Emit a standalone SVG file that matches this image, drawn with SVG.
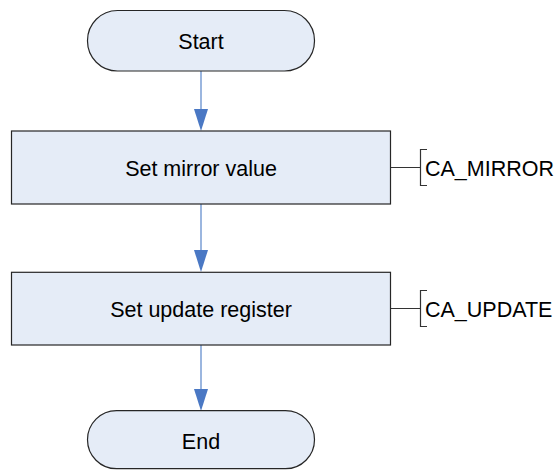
<svg xmlns="http://www.w3.org/2000/svg" width="557" height="470" viewBox="0 0 557 470">
  <style>
    .shape { fill: #e5ecf7; stroke: #262626; stroke-width: 1.2; }
    .label { font-family: "Liberation Sans", Arial, sans-serif; font-size: 21.5px; fill: #000; text-anchor: middle; }
    .note { font-family: "Liberation Sans", Arial, sans-serif; font-size: 21.5px; fill: #000; }
    .flow { stroke: #9bb6df; stroke-width: 2; fill: none; }
    .head { fill: #4a78c4; }
    .lead { stroke: #333; stroke-width: 1.2; fill: none; }
  </style>

  <g id="connectors">
    <line class="flow" x1="201" y1="71" x2="201" y2="109"/>
    <polygon class="head" points="194,109 208,109 201,131"/>
    <line class="flow" x1="201" y1="204" x2="201" y2="250"/>
    <polygon class="head" points="194,250 208,250 201,272"/>
    <line class="flow" x1="201" y1="345" x2="201" y2="389"/>
    <polygon class="head" points="194,389 208,389 201,411"/>
    <path class="lead" d="M390.5,167.5 H420.5 M427,149.5 H420.5 V185.5 H427"/>
    <path class="lead" d="M390.5,308.5 H420.5 M427,290.5 H420.5 V326.5 H427"/>
  </g>

  <g id="start">
    <rect class="shape" x="87.5" y="10.5" width="227" height="60.5" rx="30" ry="30"/>
    <text class="label" x="201" y="48.5">Start</text>
  </g>

  <g id="set-mirror">
    <rect class="shape" x="11.5" y="131" width="379" height="73"/>
    <text class="label" x="201" y="175.5">Set mirror value</text>
    <text class="note" x="425" y="175.5">CA_MIRROR</text>
  </g>

  <g id="set-update">
    <rect class="shape" x="11.5" y="272.3" width="379" height="72.7"/>
    <text class="label" x="201" y="316.5">Set update register</text>
    <text class="note" x="425" y="316.5">CA_UPDATE</text>
  </g>

  <g id="end">
    <rect class="shape" x="87.5" y="410.7" width="227" height="58" rx="29" ry="29"/>
    <text class="label" x="201" y="448.5">End</text>
  </g>
</svg>
